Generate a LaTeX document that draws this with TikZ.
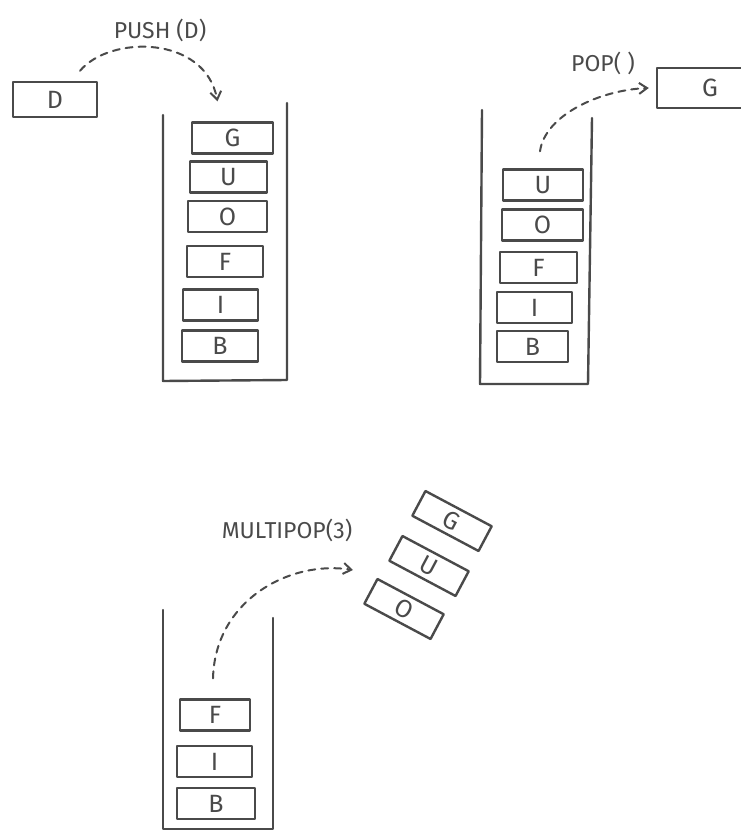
\documentclass[tikz,border=0pt]{standalone}
\usepackage{fontspec}
\setmainfont{Fira Sans}
\usetikzlibrary{arrows.meta}
\definecolor{pencil}{HTML}{4a4a4a}
\begin{document}
\begin{tikzpicture}[x=1pt,y=-1pt,
    pencil/.style={draw=pencil, line width=2.4pt, line join=round, line cap=round},
    blk/.style={pencil, inner sep=0pt, minimum height=31pt, text=pencil, font=\fontsize{25}{25}\selectfont},
    lbl/.style={text=pencil, font=\fontsize{23}{23}\selectfont},
    move/.style={pencil, line width=2pt, dash pattern=on 7pt off 6pt, -{Straight Barb[length=8pt,width=11pt]}}]
\useasboundingbox (0,0) rectangle (740,832);
% push
\draw[pencil] (163,115) -- (163,381) -- (287,380) -- (287,103);
\foreach \n/\l/\x/\y/\w in {g1/G/232.5/138/81, u1/U/228.5/177/77, o1/O/227.5/216.5/79, f1/F/225/261.5/76, i1/I/220.5/305/75, b1/B/220/346/76}
    \node[blk, minimum width=\w pt] (\n) at (\x,\y) {\l};
\node[blk, minimum width=84pt, minimum height=35pt] (d1) at (55,99.5) {D};
\node[lbl] (push) at (160,30) {PUSH (D)};
\draw[move] ([xshift=25pt,yshift=10pt]d1.north) .. controls (110,35) and (205,35) .. ([xshift=-15pt,yshift=20pt]g1.north);
% pop
\draw[pencil] (482,110) -- (480,384) -- (588,384) -- (592,118);
\foreach \n/\l/\x/\y/\w in {u2/U/543/185/80, o2/O/542.5/225/81, f2/F/538.5/267.5/77, i2/I/534.5/307.5/75, b2/B/532.5/346.5/71}
    \node[blk, minimum width=\w pt] (\n) at (\x,\y) {\l};
\node[blk, minimum width=106pt, minimum height=40pt] (g2) at (710,88) {G};
\node[lbl] (pop) at (603,63) {POP( )};
\draw[move] ([xshift=-3pt,yshift=17pt]u2.north) .. controls (545,115) and (600,90) .. ([xshift=-7pt]g2.west);
% multipop
\draw[pencil] (163,610) -- (163,829) -- (273,829) -- (273,618);
\foreach \n/\l/\x/\y/\w in {f3/F/215/715/70, i3/I/214.5/761.5/75, b3/B/216/803.5/78}
    \node[blk, minimum width=\w pt] (\n) at (\x,\y) {\l};
\foreach \n/\l/\x/\y in {g3/G/452/521, u3/U/429/566, o3/O/404/609}
    \node[blk, minimum width=75pt, minimum height=28pt, rotate=-28] (\n) at (\x,\y) {\l};
\node[lbl] (multipop) at (287,530) {MULTIPOP(3)};
\draw[move] ([xshift=-2pt,yshift=20pt]f3.north) .. controls (215,600) and (290,560) .. ([xshift=-51pt,yshift=39pt]o3.center);
\end{tikzpicture}
\end{document}
